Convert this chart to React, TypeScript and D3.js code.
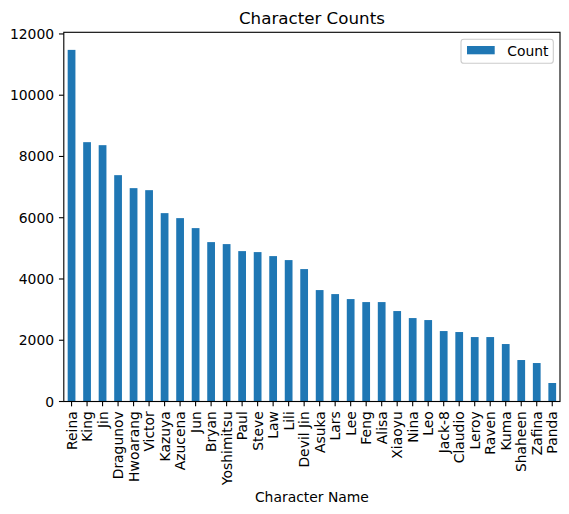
import React from "react";
import * as d3 from "d3";

const categories = [
  "Reina", "King", "Jin", "Dragunov", "Hwoarang", "Victor", "Kazuya", "Azucena", "Jun", "Bryan",
  "Yoshimitsu", "Paul", "Steve", "Law", "Lili", "Devil Jin", "Asuka", "Lars", "Lee", "Feng",
  "Alisa", "Xiaoyu", "Nina", "Leo", "Jack-8", "Claudio", "Leroy", "Raven", "Kuma", "Shaheen",
  "Zafina", "Panda",
];
const counts = [
  11480, 8467, 8369, 7390, 6966, 6900, 6150, 5987, 5661, 5204,
  5139, 4910, 4878, 4747, 4617, 4323, 3638, 3507, 3344, 3246,
  3246, 2953, 2724, 2659, 2300, 2268, 2104, 2104, 1876, 1354,
  1256, 604,
];
const yTicks = [0, 2000, 4000, 6000, 8000, 10000, 12000];
const title = "Character Counts";
const xLabel = "Character Name";
const seriesName = "Count";

const W = 569;
const H = 514;
const left = 63.8;
const right = 560;
const top = 32.3;
const bottom = 401.5;
const font = "'DejaVu Sans', sans-serif";
const color = "#1f77b4";

export default function App() {
  const n = categories.length;
  const x = d3.scaleLinear().domain([-0.5, n - 0.5]).range([left, right]);
  const maxV = d3.max(counts) as number;
  const y = d3.scaleLinear().domain([0, maxV * 1.05]).range([bottom, top]);
  const bw = x(0.25) - x(-0.25);
  const tickLen = 4.86;
  const lw = 1.11;

  return (
    <svg
      width={W}
      height={H}
      style={{ position: "absolute", left: 0, top: 0, display: "block" }}
      fontFamily={font}
    >
      <rect x={0} y={0} width={W} height={H} fill="#fff" />
      {counts.map((v, i) => (
        <rect
          key={categories[i]}
          x={x(i) - bw / 2}
          y={y(v)}
          width={bw}
          height={bottom - y(v)}
          fill={color}
        />
      ))}
      <rect
        x={left}
        y={top}
        width={right - left}
        height={bottom - top}
        fill="none"
        stroke="#000"
        strokeWidth={lw}
      />
      {yTicks.map((t) => (
        <g key={t}>
          <line x1={left - tickLen} x2={left} y1={y(t)} y2={y(t)} stroke="#000" strokeWidth={lw} />
          <text
            x={left - tickLen - 4.86}
            y={y(t)}
            textAnchor="end"
            dominantBaseline="central"
            fontSize={13.9}
            fill="#000"
          >
            {t}
          </text>
        </g>
      ))}
      {categories.map((c, i) => (
        <g key={c}>
          <line x1={x(i)} x2={x(i)} y1={bottom} y2={bottom + tickLen} stroke="#000" strokeWidth={lw} />
          <text
            transform={`translate(${x(i)},${bottom + tickLen + 4.86}) rotate(-90)`}
            textAnchor="end"
            dominantBaseline="central"
            fontSize={13.9}
            fill="#000"
          >
            {c}
          </text>
        </g>
      ))}
      <text x={(left + right) / 2} y={24} textAnchor="middle" fontSize={16.7} fill="#000">
        {title}
      </text>
      <text x={(left + right) / 2} y={502} textAnchor="middle" fontSize={13.9} fill="#000">
        {xLabel}
      </text>
      <g>
        <rect
          x={461}
          y={39.3}
          width={92.3}
          height={24}
          rx={2.8}
          fill="#fff"
          fillOpacity={0.8}
          stroke="#cccccc"
          strokeWidth={1.11}
        />
        <rect x={467} y={46} width={27.7} height={8.3} fill={color} />
        <text x={507.3} y={50.5} dominantBaseline="central" fontSize={13.9} fill="#000">
          {seriesName}
        </text>
      </g>
    </svg>
  );
}
